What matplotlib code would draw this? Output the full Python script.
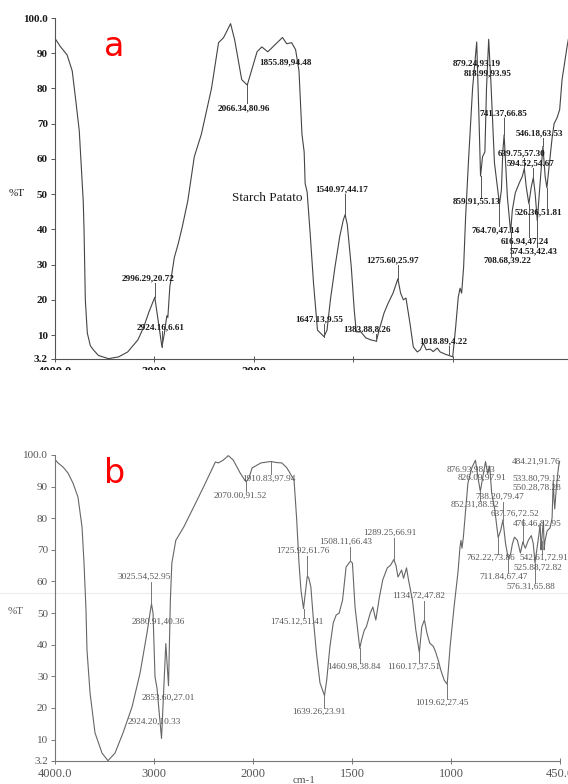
import numpy as np
import matplotlib
matplotlib.use("Agg")
import matplotlib.pyplot as plt
from matplotlib.patches import Rectangle
from matplotlib.lines import Line2D

W, H = 568, 784

# ---------------- data: panel a (Starch Patato) ----------------
a_wn = [3995, 3949, 3878, 3827, 3797, 3756, 3736, 3716, 3708, 3695, 3675, 3645, 3614, 3563,
        3462, 3360, 3269, 3167, 3107, 3056, 2996.29, 2924.16, 2900, 2875, 2865, 2845, 2800,
        2760, 2720, 2665, 2599, 2528, 2426, 2355, 2305, 2234, 2193, 2122, 2085, 2066.34,
        1984, 1960, 1930, 1885, 1855.89, 1835, 1810, 1790, 1773, 1758, 1747, 1742, 1732,
        1717, 1700, 1680, 1647.13, 1632, 1615, 1592, 1568, 1550, 1540.97, 1530, 1510, 1495,
        1485, 1462, 1437, 1410, 1383.88, 1370, 1345, 1325, 1300, 1275.60, 1262, 1248, 1235,
        1215, 1198, 1178, 1163, 1148, 1133, 1113, 1098, 1078, 1063, 1035, 1018.89, 1000,
        985, 972, 963, 955, 945, 935, 920, 900, 879.24, 868, 859.91, 850, 838, 830, 818.99,
        808, 790, 764.70, 755, 748, 741.37, 725, 708.68, 700, 685, 665, 650, 639.75, 630,
        616.94, 605, 594.52, 585, 574.53, 562, 546.18, 535, 526.36, 515, 500, 490, 475, 462,
        450, 425, 415]
a_T = [94.0, 92.0, 89.5, 85.0, 78.0, 68.0, 58.0, 48.0, 40.0, 20.0, 10.6, 7.0, 5.8, 4.2,
       3.3, 3.8, 5.2, 8.6, 12.3, 16.5, 20.72, 6.61, 10.5, 15.5, 15.0, 23.7, 32.0,
       36.0, 40.7, 48.0, 60.6, 67.0, 80.0, 93.0, 94.4, 98.4, 93.8, 82.5, 81.5, 80.96,
       90.4, 91.8, 90.4, 92.9, 94.48, 92.7, 93.0, 91.0, 85.0, 67.0, 62.0, 53.0, 50.6,
       39.0, 24.8, 11.4, 9.55, 11.4, 20.0, 29.3, 38.0, 42.7, 44.17, 41.3, 29.3, 17.0,
       10.9, 10.9, 9.2, 8.6, 8.26, 11.4, 16.3, 19.0, 21.9, 25.97, 21.9, 20.0, 20.5,
       13.4, 6.6, 5.2, 5.8, 7.7, 5.8, 6.0, 5.3, 6.3, 5.2, 4.5, 4.22, 3.8,
       12.3, 20.8, 23.3, 21.9, 29.3, 43.5, 60.0, 80.0, 93.19, 72.0, 55.13, 60.6, 62.0, 80.0, 93.95,
       82.0, 58.9, 47.14, 51.2, 62.0, 66.85, 49.2, 39.22, 45.5, 50.4, 53.2, 55.0, 57.30, 52.0,
       47.24, 52.0, 54.67, 50.0, 42.43, 52.0, 63.53, 55.0, 51.81, 58.0, 66.0, 70.0, 71.7, 74.0,
       82.5, 91.8, 95.0]

# labelled peaks, panel a
a_peak_wn = [2066.34, 1855.89, 2996.29, 2924.16, 1540.97, 1647.13, 1383.88, 1275.60, 1018.89,
             879.24, 818.99, 741.37, 546.18, 639.75, 594.52, 859.91, 526.36, 764.70, 616.94,
             574.53, 708.68]
a_peak_T = [80.96, 94.48, 20.72, 6.61, 44.17, 9.55, 8.26, 25.97, 4.22,
            93.19, 93.95, 66.85, 63.53, 57.30, 54.67, 55.13, 51.81, 47.14, 47.24,
            42.43, 39.22]

# ---------------- data: panel b ----------------
b_wn = [3995, 3970, 3919, 3869, 3818, 3768, 3727, 3707, 3687, 3677, 3646, 3596, 3525, 3465,
        3394, 3313, 3222, 3141, 3071, 3025.54, 3010, 2990, 2970, 2924.20, 2880.91, 2853.60,
        2835, 2820, 2780, 2700, 2600, 2500, 2380, 2350, 2300, 2250, 2200, 2130, 2085, 2070.00,
        2040, 2010, 1960, 1910.83, 1880, 1855, 1830, 1793, 1780, 1768, 1758, 1745.12, 1725.92,
        1718, 1708, 1695, 1680, 1662, 1639.26, 1628, 1612, 1595, 1580, 1565, 1548, 1530,
        1508.11, 1498, 1485, 1460.98, 1452, 1438, 1428, 1408, 1395, 1380, 1362, 1345, 1322,
        1305, 1289.25, 1278, 1268, 1250, 1240, 1225, 1215, 1195, 1178, 1160.17, 1148, 1134.72,
        1122, 1108, 1090, 1078, 1065, 1052, 1035, 1019.62, 1005, 985, 965, 955, 950, 945, 938,
        925, 915, 895, 876.93, 862, 852.31, 840, 826.09, 815, 805, 795, 780, 762.22, 750,
        738.20, 725, 711.84, 700, 690, 680, 665, 650, 637.76, 625, 610, 595, 585, 576.31, 565,
        556, 550.28, 546, 542.61, 538, 533.80, 530, 525.88, 515, 500, 490, 484.21, 480, 476.46,
        468, 458, 452]
b_T = [98.4, 97.5, 96.2, 94.3, 91.1, 86.7, 77.2, 65.8, 51.0, 38.3, 24.7, 12.1, 5.7, 3.3,
       5.7, 12.1, 20.3, 31.0, 43.7, 52.95, 50.0, 29.8, 26.3, 10.33, 40.36, 27.01,
       54.0, 65.8, 73.0, 77.2, 83.5, 89.9, 97.8, 97.5, 98.4, 99.8, 98.4, 94.3, 92.1, 91.52,
       92.8, 95.9, 97.5, 97.94, 97.6, 97.5, 96.0, 92.1, 80.0, 65.8, 57.3, 51.41, 61.76,
       61.0, 58.2, 47.8, 37.4, 27.9, 23.91, 28.8, 39.3, 46.9, 49.4, 50.0, 54.1, 64.6,
       66.43, 65.8, 51.9, 38.84, 41.5, 44.6, 45.6, 50.0, 51.9, 47.8, 55.0, 60.5, 64.3,
       65.2, 66.91, 65.0, 61.4, 63.6, 61.0, 64.3, 60.5, 54.1, 44.6, 37.51, 45.6, 47.82,
       43.7, 40.5, 39.5, 37.7, 35.1, 32.0, 28.8, 27.45, 39.3, 51.9, 63.0, 70.9, 73.0, 70.5, 74.0,
       83.5, 91.1, 96.0, 98.33, 92.0, 88.52, 93.0, 97.91, 94.0, 96.5, 88.0, 83.0, 73.86, 76.0,
       79.47, 72.0, 67.47, 68.5, 72.0, 74.0, 73.0, 69.0, 72.52, 70.5, 73.0, 74.5, 72.0, 65.88, 71.0,
       75.0, 78.28, 70.0, 72.91, 76.0, 79.12, 70.0, 72.82, 76.0, 77.0, 80.0, 91.76, 86.0, 82.95,
       90.0, 96.0, 98.0]

b_peak_wn = [2070.00, 1910.83, 3025.54, 2880.91, 2853.60, 2924.20, 1725.92, 1745.12, 1639.26,
             1508.11, 1289.25, 1460.98, 1160.17, 1134.72, 1019.62, 876.93, 826.09, 852.31,
             738.20, 637.76, 476.46, 484.21, 533.80, 550.28, 762.22, 542.61, 525.88, 711.84,
             576.31]
b_peak_T = [91.52, 97.94, 52.95, 40.36, 27.01, 10.33, 61.76, 51.41, 23.91,
            66.43, 66.91, 38.84, 37.51, 47.82, 27.45, 98.33, 97.91, 88.52,
            79.47, 72.52, 82.95, 91.76, 79.12, 78.28, 73.86, 72.91, 72.82, 67.47,
            65.88]

y_ticks = [100, 90, 80, 70, 60, 50, 40, 30, 20, 10, 3.2]
y_ticklabels = ["100.0", "90", "80", "70", "60", "50", "40", "30", "20", "10", "3.2"]
a_xticks = [4000, 3000, 2000, 1500, 1000]
a_xticklabels = ["4000.0", "3000", "2000", "", ""]
b_xticks = [4000, 3000, 2000, 1500, 1000, 450]
b_xticklabels = ["4000.0", "3000", "2000", "1500", "1000", "450.0"]

# ---------------- layout (pixels) ----------------
# label text positions (left x, centre y) and leader end y (None = no leader)
a_label_layout = [(218, 108, 103), (259, 62, None), (122, 278, 283), (137, 327, 331),
                  (315, 189, 194), (295, 319, 324), (343, 329, 334), (366, 260, 265),
                  (419, 341, 346), (453, 63, None), (464, 73, None), (479, 113, 118),
                  (516, 133, 138), (498, 153, 158), (507, 163, 168), (453, 201, 197),
                  (515, 212, 208), (472, 230, 226), (501, 241, 237), (510, 251, 247),
                  (483, 260, 256)]
b_label_layout = [(214, 496, 491), (242, 479, 474), (118, 577, 582), (132, 622, None),
                  (142, 698, None), (128, 722, None), (276, 551, 556), (270, 622, 618),
                  (292, 712, 708), (319, 542, 547), (363, 533, 538), (327, 667, 663),
                  (387, 667, 663), (392, 596, 601), (415, 703, 699), (447, 470, None),
                  (458, 478, None), (451, 505, 501), (475, 497, 502), (491, 514, 519),
                  (513, 524, None), (512, 462, None), (512, 479, None), (512, 488, None),
                  (466, 558, 554), (519, 558, 554), (513, 568, None), (479, 577, 573),
                  (506, 587, 583)]


def fwd(w):
    w = np.asarray(w, dtype=float)
    return np.where(w > 2000, 2000 + (w - 2000) * 0.5, w)


def inv(u):
    u = np.asarray(u, dtype=float)
    return np.where(u > 2000, 2000 + (u - 2000) * 2.0, u)


plt.rcParams['font.family'] = ['Liberation Serif', 'DejaVu Serif']
fig = plt.figure(figsize=(W / 100, H / 100), dpi=100)
fig.patch.set_facecolor('white')


def make_axes(box, xlim, xticks, xticklabels, color, tcolor, weight):
    l, r, t, b = box
    ax = fig.add_axes([l / W, 1 - b / H, (r - l) / W, (b - t) / H])
    ax.set_xscale('function', functions=(fwd, inv))
    ax.set_xlim(*xlim)
    ax.set_ylim(3.2, 100)
    ax.set_facecolor('none')
    for s in ('top', 'right'):
        ax.spines[s].set_visible(False)
    for s in ('left', 'bottom'):
        ax.spines[s].set_color(color)
        ax.spines[s].set_linewidth(0.8)
    ax.set_yticks(y_ticks)
    ax.set_yticklabels(y_ticklabels, fontsize=8, color=tcolor, fontweight=weight)
    ax.set_xticks(xticks)
    ax.set_xticklabels(xticklabels, fontsize=9, color=tcolor, fontweight=weight)
    ax.xaxis.set_minor_locator(matplotlib.ticker.NullLocator())
    ax.yaxis.set_minor_locator(matplotlib.ticker.NullLocator())
    ax.tick_params(axis='y', direction='out', length=3, width=0.7, color=color, pad=2)
    ax.tick_params(axis='x', direction='inout', length=4, width=0.7, color=color, pad=3)
    return ax


def draw_labels(ax, pw, pT, layout, tcolor, lcolor, weight, size):
    invt = ax.transData.inverted()
    for w, T, (tx, ty, lend) in zip(pw, pT, layout):
        fig.text(tx / W, 1 - ty / H, f"{w:.2f},{T:.2f}", fontsize=size, color=tcolor,
                 ha='left', va='center', fontweight=weight)
        if lend is not None:
            y_end = invt.transform((0, H - lend))[1]
            ax.plot([w, w], [T, y_end], color=lcolor, lw=0.7, clip_on=False)


# panel a
ax_a = make_axes((55, 572, 18, 359), (4000, 400), a_xticks, a_xticklabels, '#555555', '#1a1a1a', 'bold')
ax_a.plot(a_wn, a_T, color='#444444', lw=0.8, clip_on=False)
draw_labels(ax_a, a_peak_wn, a_peak_T, a_label_layout, '#1a1a1a', '#555555', 'bold', 6.6)
fig.text(232 / W, 1 - 198 / H, "Starch Patato", fontsize=9.5, color='#1a1a1a', ha='left', va='center')
fig.text(9 / W, 1 - 194 / H, "%T", fontsize=8, color='#1a1a1a', ha='left', va='center')
fig.text(114 / W, 1 - 47 / H, "a", fontsize=24, color='red', ha='center', va='center',
         family=['DejaVu Sans'])

# panel b
ax_b = make_axes((55, 560, 455, 761), (4000, 450), b_xticks, b_xticklabels, '#777777', '#555555', 'normal')
ax_b.plot(b_wn, b_T, color='#666666', lw=0.8, clip_on=False)
draw_labels(ax_b, b_peak_wn, b_peak_T, b_label_layout, '#555555', '#777777', 'normal', 6.7)
fig.text(8 / W, 1 - 612 / H, "%T", fontsize=8, color='#555555', ha='left', va='center')
fig.text(115 / W, 1 - 473 / H, "b", fontsize=24, color='red', ha='center', va='center',
         family=['DejaVu Sans'])
fig.text(304 / W, 1 - 776 / H, "cm-1", fontsize=8, color='#555555', ha='center', va='top')

# faint scan line in panel b
fig.add_artist(Line2D([0, 1], [1 - 593 / H, 1 - 593 / H], transform=fig.transFigure,
                      color='#ececec', lw=0.8, zorder=0))

# crop of the upper panel's axis labels
fig.add_artist(Rectangle((0, 1 - 440 / H), 1, 70 / H, transform=fig.transFigure,
                         facecolor='white', edgecolor='none', zorder=20))

fig.savefig("out.png", dpi=100)
